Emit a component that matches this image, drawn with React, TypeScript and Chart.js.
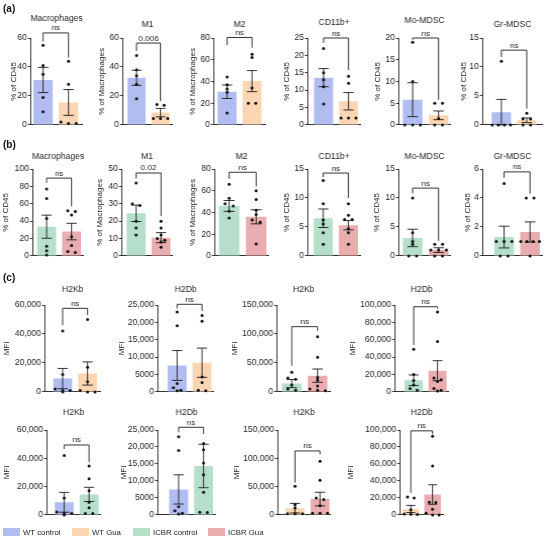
import React, { useEffect, useRef } from "react";
import { Chart, registerables } from "chart.js";

Chart.register(...registerables);

const FONT = "'Liberation Sans', Arial, sans-serif";
Chart.defaults.font.family = FONT;

// ---------- groups ----------
const GROUP_NAMES = ["WT control", "WT Gua", "ICBR control", "ICBR Gua"];
const GROUP_COLORS = ["#b1bcf0", "#fcd6b2", "#b5dfca", "#e9adb0"];

// ---------- (a) WT control vs WT Gua ----------
const A_TITLES = ["Macrophages", "M1", "M2", "CD11b+", "Mo-MDSC", "Gr-MDSC"];
const A_YLABELS = ["% of CD45", "% of Macrophages", "% of Macrophages", "% of CD45", "% of CD45", "% of CD45"];
const A_YMAX = [60, 60, 80, 25, 20, 15];
const A_YSTEP = [20, 20, 20, 5, 5, 5];
const A_LEFT_MEAN = [31, 32.5, 30.5, 13.6, 5.8, 2.2];
const A_LEFT_SEM = [8.7, 5.2, 6.2, 2.6, 3.9, 2.2];
const A_RIGHT_MEAN = [15.5, 8.5, 40.3, 6.8, 2.2, 0.8];
const A_RIGHT_SEM = [8.9, 2.9, 9.7, 2.5, 1.0, 0.4];
const A_LEFT_PTS = [
  [55, 41, 35, 19, 9],
  [48, 38, 34, 28, 18],
  [44, 37, 33, 30, 11],
  [22, 15, 13, 11, 6],
  [19, 10, 0, 0, 0],
  [11, 0, 0, 0, 0],
];
const A_RIGHT_PTS = [
  [44, 28, 2, 1, 1],
  [14, 13.5, 4.5, 4.5, 4.5],
  [65, 62, 34, 20, 20],
  [14, 12, 2, 2, 2],
  [5, 5, 1.5, 0, 0],
  [2, 1, 1, 0, 0],
];
const A_SIG = ["ns", "0.006", "ns", "ns", "ns", "ns"];
const A_BRACKET = [
  [63.5, 57.5, 46.5],
  [56.5, 51, 16.5],
  [80.5, 73.5, 71],
  [25, 23.6, 15.8],
  [20, 19.6, 5.8],
  [12.9, 11.7, 2.8],
];

// ---------- (b) ICBR control vs ICBR Gua ----------
const B_TITLES = ["Macrophages", "M1", "M2", "CD11b+", "Mo-MDSC", "Gr-MDSC"];
const B_YLABELS = ["% of CD45", "% of Macrophages", "% of Macrophages", "% of CD45", "% of CD45", "% of CD45"];
const B_YMAX = [100, 50, 80, 15, 15, 6];
const B_YSTEP = [20, 10, 20, 5, 5, 2];
const B_LEFT_MEAN = [33.6, 24.5, 46, 6.5, 3.1, 1.3];
const B_LEFT_SEM = [13.3, 4.7, 5, 1.6, 1.5, 0.75];
const B_RIGHT_MEAN = [28, 10.5, 36, 5.3, 1.0, 1.65];
const B_RIGHT_SEM = [9.5, 2.9, 6.5, 0.8, 0.4, 0.7];
const B_LEFT_PTS = [
  [77, 66, 43, 11, 6, 1],
  [42, 30, 29, 20, 16, 12],
  [66, 53, 48, 46, 41, 35],
  [13, 9, 6.2, 5.5, 4, 2],
  [10, 4, 2.5, 2, 0, 0],
  [5, 1, 1, 1, 0, 0],
];
const B_RIGHT_PTS = [
  [52, 51, 47, 22, 12, 5, 4],
  [20, 16, 12, 10, 9, 8, 5],
  [60, 52, 42, 38, 33, 31, 11],
  [9, 7, 6.3, 6.3, 4.7, 4, 2],
  [2, 2, 1, 1, 1, 0, 0],
  [4, 4, 1, 1, 1, 1, 0],
];
const B_SIG = ["ns", "0.02", "ns", "ns", "ns", "ns"];
const B_BRACKET = [
  [89.5, 84, 57],
  [47.7, 44.5, 23],
  [77, 71, 64],
  [14.3, 13.6, 10],
  [11.7, 10.8, 2.6],
  [5.8, 5.4, 4.3],
];

// ---------- (c) MFI ----------
const C_TITLES = ["H2Kb", "H2Db", "H2Kb", "H2Db", "H2Kb", "H2Db", "H2Kb", "H2Db"];
const C_YLABEL = "MFI";
const C_YMAX = [60000, 25000, 150000, 100000, 60000, 25000, 150000, 100000];
const C_YSTEP = [20000, 5000, 50000, 20000, 20000, 5000, 50000, 20000];
const C_GROUPS = [[0, 1], [0, 1], [2, 3], [2, 3], [0, 2], [0, 2], [1, 3], [1, 3]];
const C_LEFT_MEAN = [9200, 7600, 14300, 13400, 8900, 7500, 11900, 7000];
const C_LEFT_SEM = [7000, 4300, 7000, 6100, 7000, 4300, 8400, 4200];
const C_RIGHT_MEAN = [12700, 8400, 28000, 24400, 14500, 14400, 28000, 24000];
const C_RIGHT_SEM = [8000, 4200, 11500, 11500, 5000, 6400, 12000, 11500];
const C_LEFT_PTS = [
  [42000, 12000, 2000, 1000, 1000, 0],
  [23000, 19000, 2400, 1200, 500, 300],
  [34000, 24000, 22000, 12000, 5000, 3000],
  [49000, 20000, 13000, 8000, 4000, 2000],
  [42000, 12000, 2000, 1000, 1000, 0],
  [23000, 19000, 2400, 1200, 500, 300],
  [50600, 17900, 12000, 2000, 2000, 2000],
  [21000, 20000, 6000, 1000, 800, 600],
];
const C_RIGHT_PTS = [
  [50000, 17000, 7000, 1000, 0, 0],
  [22000, 20300, 4300, 2700, 500, 300],
  [95000, 60000, 25000, 20000, 10000, 5000, 3000, 2000],
  [92000, 58000, 16000, 14000, 12000, 4000, 2000, 1000],
  [34500, 25500, 17000, 9000, 5000, 1000, 1000],
  [21000, 19200, 15300, 11800, 6700, 800, 700],
  [95000, 61000, 30000, 27000, 16000, 3000, 3000, 3000],
  [92500, 57500, 15000, 14500, 6700, 2000, 0, 0],
];
const C_SIG = ["ns", "ns", "ns", "ns", "ns", "ns", "ns", "ns"];
const C_BRACKET = [
  [57700, 46000, 53000],
  [25200, 24000, 23300],
  [112600, 45000, 105700],
  [98000, 54000, 96000],
  [49400, 46600, 37300],
  [25800, 24300, 23800],
  [113000, 57000, 107000],
  [99000, 26000, 95000],
];

// ---------- layout (page pixels) ----------
type Layout = { left: number; right: number; top: number; bottom: number; titleY: number; ytx: number; xMin: number; xMax: number };
const mk = (top: number, bottom: number, titleY: number, arr: number[][]): Layout[] =>
  arr.map(([left, right, ytx, xMin, xMax, tY]) => ({ left, right, top, bottom, titleY: tY ?? titleY, ytx, xMin, xMax }));

const LAYOUT_A = mk(38, 125, 25, [
  [31, 82, 14, -0.47, 1.53, 19],
  [123, 172, 102, -0.56, 1.48, 25],
  [214, 265, 193, -0.52, 1.52, 25],
  [308, 360, 287, -0.62, 1.46, 23],
  [399, 450, 378, -0.52, 1.44, 21],
  [483, 542, 464, -0.72, 1.6, 25],
]);
const LAYOUT_B = mk(169, 256, 157, [
  [33, 83, 6, -0.54, 1.46],
  [122, 172, 100, -0.56, 1.44],
  [215, 268, 193, -0.52, 1.44],
  [308, 360, 287, -0.6, 1.46],
  [399, 450, 377, -0.52, 1.44],
  [483, 542, 468, -0.81, 1.46],
]);
const LAYOUT_C1 = mk(305, 392, 290, [
  [45, 100, 7, -0.7, 1.5],
  [158, 213, 122, -0.76, 1.44],
  [277, 330, 235, -0.56, 1.48],
  [395, 448, 353, -0.77, 1.44],
]);
const LAYOUT_C2 = mk(430, 515, 413, [
  [47, 100, 7, -0.68, 1.44],
  [158, 215, 124, -0.82, 1.46],
  [278, 330, 237, -0.67, 1.4],
  [400, 443, 351, -0.48, 1.48],
]);

type Spec = {
  title: string; yLabel: string; yMax: number; yStep: number; groups: number[];
  means: number[]; sems: number[]; pts: number[][]; sig: string; bracket: number[]; layout: Layout;
};

const SPECS: Spec[] = [];
A_TITLES.forEach((t, i) =>
  SPECS.push({
    title: t, yLabel: A_YLABELS[i], yMax: A_YMAX[i], yStep: A_YSTEP[i], groups: [0, 1],
    means: [A_LEFT_MEAN[i], A_RIGHT_MEAN[i]], sems: [A_LEFT_SEM[i], A_RIGHT_SEM[i]],
    pts: [A_LEFT_PTS[i], A_RIGHT_PTS[i]], sig: A_SIG[i], bracket: A_BRACKET[i], layout: LAYOUT_A[i],
  })
);
B_TITLES.forEach((t, i) =>
  SPECS.push({
    title: t, yLabel: B_YLABELS[i], yMax: B_YMAX[i], yStep: B_YSTEP[i], groups: [2, 3],
    means: [B_LEFT_MEAN[i], B_RIGHT_MEAN[i]], sems: [B_LEFT_SEM[i], B_RIGHT_SEM[i]],
    pts: [B_LEFT_PTS[i], B_RIGHT_PTS[i]], sig: B_SIG[i], bracket: B_BRACKET[i], layout: LAYOUT_B[i],
  })
);
const LAYOUT_C = [...LAYOUT_C1, ...LAYOUT_C2];
C_TITLES.forEach((t, i) =>
  SPECS.push({
    title: t, yLabel: C_YLABEL, yMax: C_YMAX[i], yStep: C_YSTEP[i], groups: C_GROUPS[i],
    means: [C_LEFT_MEAN[i], C_RIGHT_MEAN[i]], sems: [C_LEFT_SEM[i], C_RIGHT_SEM[i]],
    pts: [C_LEFT_PTS[i], C_RIGHT_PTS[i]], sig: C_SIG[i], bracket: C_BRACKET[i], layout: LAYOUT_C[i],
  })
);

// spread points with (nearly) equal values side by side
function jitter(values: number[], gi: number, yMax: number) {
  const sorted = [...values].sort((a, b) => b - a);
  const out: { x: number; y: number }[] = [];
  const thr = yMax * 0.03;
  let i = 0;
  while (i < sorted.length) {
    let j = i + 1;
    while (j < sorted.length && sorted[i] - sorted[j] < thr) j++;
    const k = j - i;
    const step = k > 1 ? Math.min(0.3, 0.72 / (k - 1)) : 0;
    for (let t = 0; t < k; t++) out.push({ x: gi + (t - (k - 1) / 2) * step, y: sorted[i + t] });
    i = j;
  }
  return out;
}

const fmt = (v: number) => (v >= 10000 ? String(v).replace(/\B(?=(\d{3})+(?!\d))/g, ",") : String(v));

const TICK_SIZE = 8.5;
const YTITLE_SIZE = 8;
const TITLE_SIZE = 8.5;
const SIG_SIZE = 8;
const INK = "#1c1c1c";

const decorPlugin = {
  id: "decor",
  afterDatasetDraw(chart: any, args: any, opts: any) {
    if (args.meta.type !== "bar") return;
    const ctx = chart.ctx;
    const y = chart.scales.y;
    ctx.save();
    ctx.strokeStyle = INK;
    ctx.lineWidth = 0.9;
    args.meta.data.forEach((bar: any, i: number) => {
      const m = opts.means[i];
      const s = opts.sems[i];
      const x = bar.x;
      const cap = bar.width * 0.27;
      const yt = y.getPixelForValue(m + s);
      const yb = y.getPixelForValue(Math.max(0, m - s));
      ctx.beginPath();
      ctx.moveTo(x, yt);
      ctx.lineTo(x, yb);
      ctx.moveTo(x - cap, yt);
      ctx.lineTo(x + cap, yt);
      ctx.moveTo(x - cap, yb);
      ctx.lineTo(x + cap, yb);
      ctx.stroke();
    });
    ctx.restore();
  },
  afterDraw(chart: any, _args: any, opts: any) {
    const { ctx, chartArea } = chart;
    const xs = chart.scales.x;
    const ys = chart.scales.y;
    const x0 = xs.getPixelForValue(0);
    const x1 = xs.getPixelForValue(1);
    const yh = ys.getPixelForValue(opts.bracket[0]);
    const yl = ys.getPixelForValue(opts.bracket[1]);
    const yr = ys.getPixelForValue(opts.bracket[2]);
    ctx.save();
    ctx.strokeStyle = INK;
    ctx.lineWidth = 0.9;
    ctx.beginPath();
    ctx.moveTo(x0, yl);
    ctx.lineTo(x0, yh);
    ctx.lineTo(x1, yh);
    ctx.lineTo(x1, yr);
    ctx.stroke();
    ctx.fillStyle = INK;
    ctx.textAlign = "center";
    ctx.textBaseline = "alphabetic";
    ctx.font = `${SIG_SIZE}px ${FONT}`;
    ctx.fillText(opts.sig, (x0 + x1) / 2, yh - 2.5);
    ctx.font = `${TITLE_SIZE}px ${FONT}`;
    ctx.textBaseline = "middle";
    ctx.fillText(opts.title, (chartArea.left + chartArea.right) / 2, opts.titleY);
    ctx.restore();
  },
};

function Panel({ spec }: { spec: Spec }) {
  const ref = useRef<HTMLCanvasElement>(null);
  const L = spec.layout;
  const canvasLeft = L.ytx - (YTITLE_SIZE * 1.2) / 2;
  const canvasTop = L.top - 33;
  const width = L.right + 3 - canvasLeft;
  const height = L.bottom + 6 - canvasTop;

  useEffect(() => {
    const points = [...jitter(spec.pts[0], 0, spec.yMax), ...jitter(spec.pts[1], 1, spec.yMax)];
    const chart = new Chart(ref.current as HTMLCanvasElement, {
      type: "bar",
      data: {
        datasets: [
          {
            type: "scatter",
            data: points,
            backgroundColor: "#111",
            pointBackgroundColor: "#111",
            pointRadius: 1.5,
            pointHoverRadius: 1.5,
            pointBorderWidth: 0,
            clip: false,
            order: 0,
          } as any,
          {
            type: "bar",
            data: [
              { x: 0, y: spec.means[0] },
              { x: 1, y: spec.means[1] },
            ],
            backgroundColor: spec.groups.map((g) => GROUP_COLORS[g]),
            borderWidth: 0,
            categoryPercentage: 0.76,
            barPercentage: 1,
            order: 1,
          } as any,
        ],
      },
      options: {
        animation: false,
        responsive: false,
        events: [],
        layout: { padding: { top: 33, bottom: 6, left: 0, right: 3 } },
        plugins: {
          legend: { display: false },
          tooltip: { enabled: false },
          decor: {
            means: spec.means,
            sems: spec.sems,
            bracket: spec.bracket,
            sig: spec.sig,
            title: spec.title,
            titleY: L.titleY - canvasTop,
          },
        } as any,
        scales: {
          x: {
            type: "linear",
            min: L.xMin,
            max: L.xMax,
            offset: false,
            grid: { display: false },
            ticks: { display: false },
            border: { display: true, color: "#333", width: 1 },
            afterBuildTicks: (s: any) => {
              s.ticks = [];
            },
            afterFit: (s: any) => {
              s.height = 0;
            },
          },
          y: {
            type: "linear",
            min: 0,
            max: spec.yMax,
            ticks: {
              stepSize: spec.yStep,
              color: INK,
              padding: 1,
              font: { size: TICK_SIZE, family: FONT },
              callback: (v: any) => fmt(Number(v)),
            },
            grid: { drawOnChartArea: false, drawTicks: true, tickLength: 3, color: "#333", lineWidth: 1 },
            border: { display: true, color: "#333", width: 1 },
            title: {
              display: true,
              text: spec.yLabel,
              color: INK,
              font: { size: YTITLE_SIZE, family: FONT },
              padding: { top: 0, bottom: 0 },
            },
            afterFit: (s: any) => {
              s.width = L.left - canvasLeft;
            },
          },
        } as any,
      },
      plugins: [decorPlugin],
    });
    return () => chart.destroy();
  }, []);

  return (
    <canvas
      ref={ref}
      width={width}
      height={height}
      style={{ position: "absolute", left: canvasLeft, top: canvasTop, width, height }}
    />
  );
}

const LETTERS = [
  { t: "(a)", y: 9 },
  { t: "(b)", y: 145 },
  { t: "(c)", y: 278 },
];
const LEGEND_X = [3, 72, 133, 208];

export default function App() {
  return (
    <div
      style={{
        position: "absolute",
        left: 0,
        top: 0,
        width: 550,
        height: 539,
        background: "#fff",
        overflow: "hidden",
        fontFamily: FONT,
      }}
    >
      {SPECS.map((s, i) => (
        <Panel key={i} spec={s} />
      ))}
      {LETTERS.map((l) => (
        <div
          key={l.t}
          style={{ position: "absolute", left: 3, top: l.y - 6, fontSize: 10, fontWeight: "bold", lineHeight: "12px", color: "#111" }}
        >
          {l.t}
        </div>
      ))}
      {GROUP_NAMES.map((g, i) => (
        <div key={g} style={{ position: "absolute", left: LEGEND_X[i], top: 527, height: 10, display: "flex", alignItems: "center" }}>
          <div style={{ width: 17, height: 8, background: GROUP_COLORS[i], marginRight: 3 }} />
          <span style={{ fontSize: 7.8, color: INK, whiteSpace: "nowrap" }}>{g}</span>
        </div>
      ))}
    </div>
  );
}
